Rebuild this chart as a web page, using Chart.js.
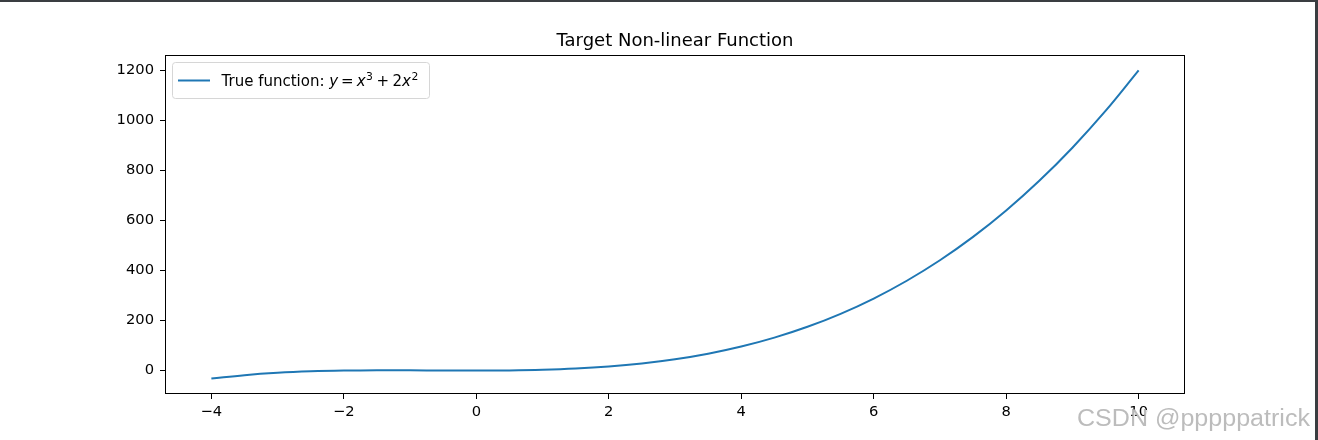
<!DOCTYPE html>
<html>
<head>
<meta charset="utf-8">
<script src="https://cdn.jsdelivr.net/npm/chart.js@4/dist/chart.umd.min.js"></script>
<style>
html,body{margin:0;padding:0;background:#fff;}
canvas{display:block;}
</style>
</head>
<body>
<canvas id="c" width="1318" height="440"></canvas>
<script>
// Values (curve of y = x^3 + 2x^2)
const xValues = [-4,-3.5,-3,-2.5,-2,-1.5,-1,-0.5,0,0.5,1,1.5,2,2.5,3,3.5,4,4.5,5,5.5,6,6.5,7,7.5,8,8.5,9,9.5,10];
const yValues = [-32,-18.375,-9,-3.125,0,1.125,1,0.375,0,0.625,3,7.875,16,28.125,45,67.375,96,131.625,175,226.875,288,359.125,441,534.375,640,758.625,891,1037.875,1200];
const xTicks = [-4,-2,0,2,4,6,8,10];
const yTicks = [0,200,400,600,800,1000,1200];
const titleText = "Target Non-linear Function";
const watermarkText = "CSDN @pppppatrick";

const FONT = "'DejaVu Sans'";
const fmt = v => String(v).replace('-', '\u2212');

const decor = {
  id: 'decor',
  afterDraw(chart) {
    const ctx = chart.ctx;
    const a = chart.chartArea;
    ctx.save();
    // plot frame
    ctx.strokeStyle = '#000';
    ctx.lineWidth = 1;
    ctx.strokeRect(Math.round(a.left) + 0.5, Math.round(a.top) + 0.5, Math.round(a.right - a.left) - 1, Math.round(a.bottom - a.top) - 1);
    // title
    ctx.fillStyle = '#000';
    ctx.font = '18px ' + FONT;
    ctx.textAlign = 'center';
    ctx.textBaseline = 'alphabetic';
    ctx.fillText(titleText, (a.left + a.right) / 2, 46);
    // legend box
    const bx = 172.5, by = 62.5, bw = 257, bh = 36, r = 3;
    ctx.beginPath();
    ctx.moveTo(bx + r, by);
    ctx.lineTo(bx + bw - r, by);
    ctx.arcTo(bx + bw, by, bx + bw, by + r, r);
    ctx.lineTo(bx + bw, by + bh - r);
    ctx.arcTo(bx + bw, by + bh, bx + bw - r, by + bh, r);
    ctx.lineTo(bx + r, by + bh);
    ctx.arcTo(bx, by + bh, bx, by + bh - r, r);
    ctx.lineTo(bx, by + r);
    ctx.arcTo(bx, by, bx + r, by, r);
    ctx.closePath();
    ctx.fillStyle = 'rgba(255,255,255,0.8)';
    ctx.fill();
    ctx.strokeStyle = '#d6d6d6';
    ctx.lineWidth = 1;
    ctx.stroke();
    // legend line sample
    ctx.strokeStyle = '#1f77b4';
    ctx.lineWidth = 2;
    ctx.beginPath();
    ctx.moveTo(178, 80.5);
    ctx.lineTo(210, 80.5);
    ctx.stroke();
    // legend text with math
    ctx.fillStyle = '#000';
    ctx.textAlign = 'left';
    let x = 221.5;
    const base = 85.5;
    const seg = (t, font, dy) => {
      ctx.font = font;
      ctx.fillText(t, x, base + (dy || 0));
      x += ctx.measureText(t).width;
    };
    const n = '15px ' + FONT, it = 'italic 15px ' + FONT, sup = '10.8px ' + FONT;
    seg('True function: ', n);
    seg('y', it);
    x += 3;
    seg('=', n);
    x += 3;
    seg('x', it);
    x += 0.5;
    seg('3', sup, -6);
    x += 3.5;
    seg('+', n);
    x += 3.5;
    seg('2', n);
    seg('x', it);
    x += 0.5;
    seg('2', sup, -6);
    // window borders
    ctx.fillStyle = '#3a3d41';
    ctx.fillRect(0, 0, 1318, 2);
    ctx.fillRect(1315, 0, 3, 440);
    // watermark
    ctx.font = '23px "Liberation Sans"';
    ctx.textAlign = 'left';
    const w = ctx.measureText(watermarkText).width;
    ctx.translate(1077, 426);
    ctx.scale(233 / w, 1);
    ctx.fillStyle = 'rgba(255,255,255,0.9)';
    ctx.fillText(watermarkText, 1, 1);
    ctx.fillStyle = 'rgba(165,165,165,0.75)';
    ctx.fillText(watermarkText, 0, 0);
    ctx.restore();
  }
};

new Chart(document.getElementById('c'), {
  type: 'line',
  data: {
    datasets: [{
      data: xValues.map((v, i) => ({x: v, y: yValues[i]})),
      borderColor: '#1f77b4',
      borderWidth: 2,
      pointRadius: 0,
      fill: false,
      tension: 0.4
    }]
  },
  options: {
    responsive: false,
    animation: false,
    devicePixelRatio: 1,
    layout: {padding: {left: 0, top: 55, right: 133, bottom: 0}},
    plugins: {legend: {display: false}, title: {display: false}, tooltip: {enabled: false}},
    scales: {
      x: {
        type: 'linear',
        min: -4.7, max: 10.7,
        afterBuildTicks: s => { s.ticks = xTicks.map(v => ({value: v})); },
        afterFit: s => { s.height = 46; },
        ticks: {callback: v => fmt(v), color: '#000', font: {family: 'DejaVu Sans', size: 14.7}, padding: 4, maxRotation: 0, autoSkip: false},
        grid: {drawOnChartArea: false, drawTicks: true, tickLength: 5, color: '#000'},
        border: {display: false}
      },
      y: {
        type: 'linear',
        min: -93.6, max: 1261.6,
        afterBuildTicks: s => { s.ticks = yTicks.map(v => ({value: v})); },
        afterFit: s => { s.width = 165; },
        ticks: {callback: v => fmt(v), color: '#000', font: {family: 'DejaVu Sans', size: 14.7}, padding: 6, autoSkip: false},
        grid: {drawOnChartArea: false, drawTicks: true, tickLength: 5, color: '#000'},
        border: {display: false}
      }
    }
  },
  plugins: [decor]
});
</script>
</body>
</html>
